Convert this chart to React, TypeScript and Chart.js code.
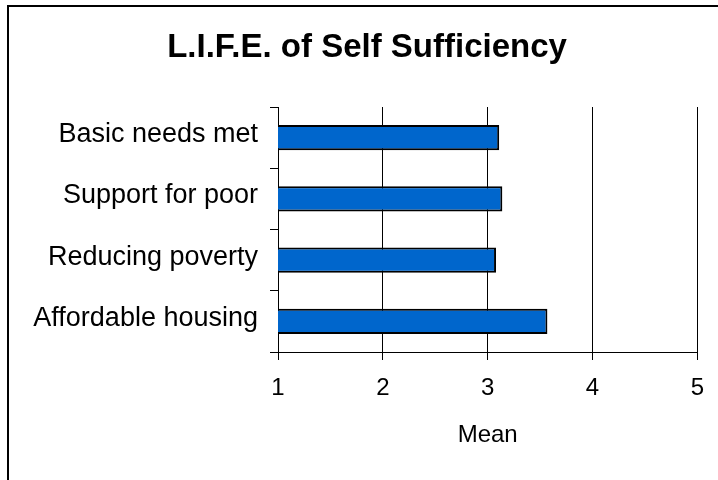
import React, { useEffect, useRef } from "react";
import { Chart, registerables } from "chart.js";

Chart.register(...registerables);

const categories: string[] = [
  "Basic needs met",
  "Support for poor",
  "Reducing poverty",
  "Affordable housing",
];
const meanValues: number[] = [3.11, 3.14, 3.08, 3.57];
const xTickValues: number[] = [1, 2, 3, 4, 5];
const chartTitle = "L.I.F.E. of Self Sufficiency";
const xAxisTitle = "Mean";

const FONT = "'Liberation Sans', Arial, sans-serif";

const framePlugin = {
  id: "frame",
  afterLayout(chart: any) {
    if (chart.titleBlock) {
      chart.titleBlock.left = 16;
      chart.titleBlock.right = chart.width;
    }
  },
  afterDraw(chart: any) {
    const ctx = chart.ctx;
    ctx.save();
    ctx.fillStyle = "#000";
    ctx.fillRect(7, 5, chart.width - 7, 2);
    ctx.fillRect(7, 5, 2, chart.height - 5);
    ctx.restore();
  },
};

export default function App() {
  const canvasRef = useRef<HTMLCanvasElement | null>(null);

  useEffect(() => {
    if (!canvasRef.current) return;
    const chart = new Chart(canvasRef.current, {
      type: "bar",
      data: {
        labels: categories,
        datasets: [
          {
            label: xAxisTitle,
            data: meanValues,
            backgroundColor: "#0066CC",
            borderColor: "#000000",
            borderWidth: 2,
            borderSkipped: false,
            categoryPercentage: 0.41,
            barPercentage: 1,
          },
        ],
      },
      plugins: [framePlugin],
      options: {
        indexAxis: "y",
        responsive: false,
        animation: false,
        layout: { padding: { left: 16, right: 20, top: 0, bottom: 0 } },
        plugins: {
          legend: { display: false },
          tooltip: { enabled: false },
          title: {
            display: true,
            text: chartTitle,
            color: "#000",
            font: { family: FONT, size: 33, weight: "bold", lineHeight: 1.2 },
            padding: { top: 28.2, bottom: 39.2 },
          },
        },
        scales: {
          x: {
            type: "linear",
            min: 1,
            max: 5,
            afterBuildTicks: (scale: any) => {
              scale.ticks = xTickValues.map((v) => ({ value: v }));
            },
            afterFit: (scale: any) => {
              scale.height = 128;
            },
            grid: {
              display: true,
              color: "#000",
              lineWidth: 1,
              drawOnChartArea: true,
              drawTicks: true,
              tickLength: 8,
            },
            border: { display: true, color: "#000", width: 1 },
            ticks: {
              color: "#000",
              font: { family: FONT, size: 24, lineHeight: 1.2 },
              padding: 14,
              maxRotation: 0,
            },
            title: {
              display: true,
              text: xAxisTitle,
              color: "#000",
              font: { family: FONT, size: 24, lineHeight: 1.2 },
              padding: { top: 0, bottom: 30 },
            },
          },
          y: {
            type: "category",
            afterFit: (scale: any) => {
              scale.width = 262;
            },
            grid: {
              display: true,
              offset: true,
              color: "#000",
              lineWidth: 1,
              drawOnChartArea: false,
              drawTicks: true,
              tickLength: 8,
            },
            border: { display: true, color: "#000", width: 1 },
            ticks: {
              color: "#000",
              font: { family: FONT, size: 27, lineHeight: 1.2 },
              padding: 12,
              labelOffset: -3,
            },
          },
        },
      },
    } as any);
    return () => chart.destroy();
  }, []);

  return (
    <div style={{ position: "absolute", left: 0, top: 0, width: 718, height: 480, background: "#fff" }}>
      <canvas ref={canvasRef} width={718} height={480} style={{ display: "block" }} />
    </div>
  );
}
